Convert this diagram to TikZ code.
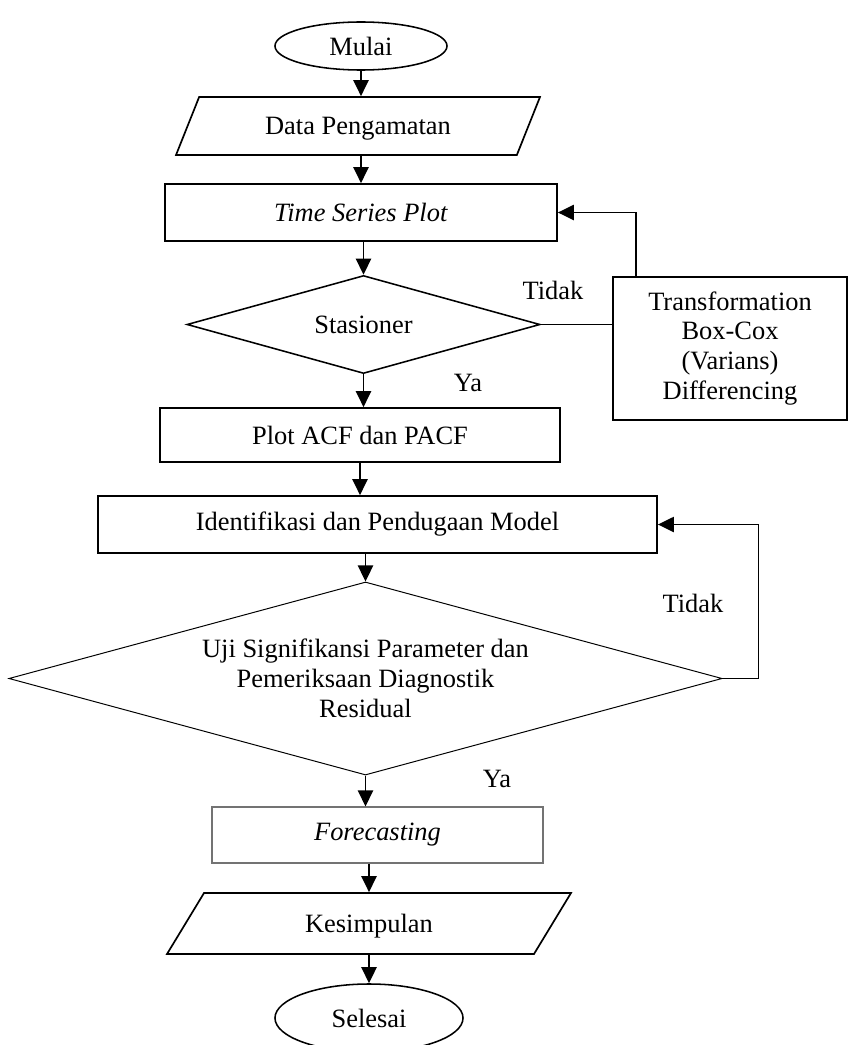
\documentclass[tikz,border=0pt]{standalone}
\usepackage{fontspec}
\setmainfont{Liberation Serif}
\usetikzlibrary{arrows.meta,shapes.geometric,calc}
\tikzset{
  >={Triangle[length=0.4cm, width=0.38cm]},
  mulaiakhir/.style={draw, ellipse, line width=1.1pt, inner sep=0pt,
    minimum width=#1, minimum height=1.2cm},
  mulaiakhir/.default=4.3cm,
  masukan/.style={draw, trapezium, trapezium left angle=52, trapezium right angle=128,
    trapezium stretches=true, line width=1.2pt, inner sep=0pt, text depth=0pt,
    minimum width=#1, minimum height=1.45cm},
  masukan/.default=9.1cm,
  proses/.style={draw, line width=1.2pt, inner sep=0pt, align=center,
    minimum width=#1, minimum height=1.4cm},
  proses/.default=10cm,
  keputusan/.style={draw, diamond, line width=1.1pt, inner sep=0pt, align=center,
    minimum width=#1},
  keputusan/.default=8.825cm,
  keterangan/.style={inner sep=0pt},
  panah/.style={->, line width=1.2pt},
  garis/.style={line width=1.2pt},
}

\begin{document}
\begin{tikzpicture}[x=0.025cm, y=-0.025cm, font=\fontsize{18.8}{21.3}\selectfont]
  \useasboundingbox (0,0) rectangle (848,1045);
  \node[mulaiakhir] (mulai) at (361,46) {Mulai};
  \node[masukan] (data) at (358,126) {Data Pengamatan};
  \node[proses=9.8cm, minimum height=1.425cm] (tsp) at (361,212.5) {\textit{Time Series Plot}};
  \node[keputusan, aspect=3.6, minimum height=2.45cm] (stas) at (363.5,324.5) {Stasioner};
  \node[proses=5.85cm, minimum height=3.575cm, line width=0.9pt] (trans) at (730,348.5) {Transformation\\ Box-Cox\\ (Varians)\\ Differencing};
  \node[proses, minimum height=1.35cm] (plot) at (360,435) {Plot ACF dan PACF};
  \node[proses=13.975cm, minimum height=1.425cm] (ident) at (377.5,524.5) {Identifikasi dan Pendugaan Model};
  \node[keputusan=17.825cm, aspect=3.69, minimum height=4.825cm, line width=0.7pt] (uji) at (365.5,678.5) {Uji Signifikansi Parameter dan\\ Pemeriksaan Diagnostik\\ Residual};
  \node[proses=8.275cm, draw=black!55, line width=0.8pt] (fore) at (377.5,835) {\textit{Forecasting}};
  \node[masukan=10.1cm, minimum height=1.525cm] (kes) at (369,923.5) {Kesimpulan};
  \node[mulaiakhir=4.7cm, minimum height=1.7cm] (selesai) at (369,1018) {Selesai};
  % keterangan cabang
  \node[keterangan] (tidaka) at (553,290) {Tidak};
  \node[keterangan] (yaa) at (468,383) {Ya};
  \node[keterangan] (tidakb) at (693,603) {Tidak};
  \node[keterangan] (yab) at (497,779) {Ya};
  % alur utama
  \draw[panah] (mulai.south) -- (mulai.south |- data.north);
  \draw[panah] (data.south -| tsp.north) -- (tsp.north);
  \draw[panah] (tsp.south -| stas.north) -- (stas.north);
  \draw[panah] (stas.south) -- (stas.south |- plot.north);
  \draw[panah] (plot.south) -- (plot.south |- ident.north);
  \draw[panah] (ident.south -| uji.north) -- (uji.north);
  \draw[panah] (uji.south) -- (uji.south |- fore.north);
  \draw[panah] (fore.south -| kes.north) -- (kes.north);
  \draw[panah] (kes.south) -- (kes.south |- selesai.north);
  % alur balik
  \draw[garis] (stas.east) -- (stas.east -| trans.west);
  \draw[panah] ($(trans.north west)!0.1!(trans.north east)$) |- (tsp.east);
  \draw[panah] (uji.east) -- ++(36,0) |- (ident.east);
\end{tikzpicture}
\end{document}
